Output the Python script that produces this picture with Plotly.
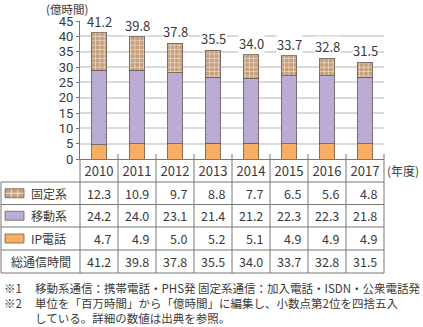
import plotly.graph_objects as go

# ---------------- data ----------------
years = ["2010", "2011", "2012", "2013", "2014", "2015", "2016", "2017"]
fixed = [12.3, 10.9, 9.7, 8.8, 7.7, 6.5, 5.6, 4.8]
mobile = [24.2, 24.0, 23.1, 21.4, 21.2, 22.3, 22.3, 21.8]
ip_phone = [4.7, 4.9, 5.0, 5.2, 5.1, 4.9, 4.9, 4.9]
total = [41.2, 39.8, 37.8, 35.5, 34.0, 33.7, 32.8, 31.5]
series_names = ["固定系", "移動系", "IP電話"]
total_label = "総通信時間"
y_ticks = [0, 5, 10, 15, 20, 25, 30, 35, 40, 45]
unit_label = "(億時間)"
year_unit = "(年度)"
note_marks = ["※1", "※2", ""]
note_texts = [
    "移動系通信：携帯電話・PHS発 固定系通信：加入電話・ISDN・公衆電話発",
    "単位を「百万時間」から「億時間」に編集し、小数点第2位を四捨五入",
    "している。詳細の数値は出典を参照。",
]

# ---------------- style ----------------
FONT = "Noto Sans CJK JP"
NUMFONT = "Roboto"
TXT = "#3a3a3a"
LINE = "#777777"
C_IP = "#F7AD63"
C_MOB = "#BBACD6"
C_FIX_BG = "#C6A07D"
C_FIX_FG = "#F0E6DA"
OUTLINE = "#6b5f57"

W, H = 423, 327
L, R, T, B = 80, 384, 21, 159  # plot area in pixels


def fx(px):
    return (px - L) / (R - L)


def fy(py):
    return (B - py) / (B - T)


x_idx = list(range(len(years)))
col_w = (R - L) / len(years)

fig = go.Figure()
fig.add_trace(go.Bar(x=x_idx, y=ip_phone, name=series_names[2], width=0.42,
                     marker=dict(color=C_IP, line=dict(color=OUTLINE, width=0.8)),
                     hoverinfo="skip"))
fig.add_trace(go.Bar(x=x_idx, y=mobile, name=series_names[1], width=0.42,
                     marker=dict(color=C_MOB, line=dict(color=OUTLINE, width=0.8)),
                     hoverinfo="skip"))
fig.add_trace(go.Bar(x=x_idx, y=fixed, name=series_names[0], width=0.42,
                     marker=dict(color=C_FIX_BG, line=dict(color=OUTLINE, width=0.8),
                                 pattern=dict(shape="+", size=4.4, solidity=0.25,
                                              fgcolor=C_FIX_FG, bgcolor=C_FIX_BG,
                                              fillmode="replace")),
                     hoverinfo="skip"))

annotations = []
# totals above bars
for i, t in enumerate(total):
    annotations.append(dict(x=i, y=t, xref="x", yref="y", text=f"{t:.1f}",
                            showarrow=False, yanchor="bottom", yshift=1,
                            bgcolor="white", borderpad=0,
                            font=dict(size=13, color=TXT, family=FONT)))

# unit labels
annotations.append(dict(x=fx(67), y=fy(8.5), xref="paper", yref="paper", text=unit_label,
                        showarrow=False, xanchor="center", yanchor="middle",
                        font=dict(size=11.5, color=TXT, family=FONT)))
annotations.append(dict(x=fx(385), y=fy(170), xref="paper", yref="paper", text=year_unit,
                        showarrow=False, xanchor="left", yanchor="middle",
                        font=dict(size=12, color=TXT, family=FONT)))

# table geometry
h_lines = [182, 204.5, 227, 250, 273]
row_centers = [(h_lines[k] + h_lines[k + 1]) / 2 for k in range(4)]
rows = [fixed, mobile, ip_phone, total]

shapes = []
for py in h_lines:
    shapes.append(dict(type="line", xref="paper", yref="paper",
                       x0=fx(1), x1=fx(R), y0=fy(py), y1=fy(py),
                       line=dict(color=LINE, width=1)))
shapes.append(dict(type="line", xref="paper", yref="paper",
                   x0=fx(1), x1=fx(1), y0=fy(182), y1=fy(273),
                   line=dict(color=LINE, width=1)))
for k in range(len(years) + 1):
    px = L + col_w * k
    top = B if k == 0 else 154
    shapes.append(dict(type="line", xref="paper", yref="paper",
                       x0=fx(px), x1=fx(px), y0=fy(top), y1=fy(273),
                       line=dict(color=LINE, width=1)))

# table values
for r, vals in enumerate(rows):
    for i, v in enumerate(vals):
        annotations.append(dict(x=fx(L + col_w * (i + 1) - 5), y=fy(row_centers[r]),
                                xref="paper", yref="paper", text=f"{v:.1f}",
                                showarrow=False, xanchor="right", yanchor="middle",
                                font=dict(size=12.5, color=TXT, family=FONT)))

# row labels with swatches
for r, name in enumerate(series_names):
    cy = row_centers[r]
    col = [C_FIX_BG, C_MOB, C_IP][r]
    shapes.append(dict(type="rect", xref="paper", yref="paper",
                       x0=fx(5), x1=fx(24), y0=fy(cy - 4.5), y1=fy(cy + 4.5),
                       fillcolor=col, line=dict(color=OUTLINE, width=0.8)))
    if r == 0:
        for gx in (11.3, 17.7):
            shapes.append(dict(type="line", xref="paper", yref="paper",
                               x0=fx(gx), x1=fx(gx), y0=fy(cy - 4), y1=fy(cy + 4),
                               line=dict(color=C_FIX_FG, width=1)))
        shapes.append(dict(type="line", xref="paper", yref="paper",
                           x0=fx(5.5), x1=fx(23.5), y0=fy(cy), y1=fy(cy),
                           line=dict(color=C_FIX_FG, width=1)))
    annotations.append(dict(x=fx(29), y=fy(cy), xref="paper", yref="paper", text=name,
                            showarrow=False, xanchor="left", yanchor="middle",
                            font=dict(size=12, color=TXT, family=FONT)))
annotations.append(dict(x=fx(41), y=fy(row_centers[3]), xref="paper", yref="paper",
                        text=total_label, showarrow=False, xanchor="center",
                        yanchor="middle", font=dict(size=12, color=TXT, family=FONT)))

# footnotes (one block for marks, one block for texts; 15px line spacing)
annotations.append(dict(x=fx(2), y=fy(303), xref="paper", yref="paper",
                        text="<br>".join(m if m else " " for m in note_marks),
                        showarrow=False, xanchor="left", yanchor="middle", align="left",
                        font=dict(size=11.5, color=TXT, family=FONT)))
annotations.append(dict(x=fx(33), y=fy(303), xref="paper", yref="paper",
                        text="<br>".join(note_texts),
                        showarrow=False, xanchor="left", yanchor="middle", align="left",
                        font=dict(size=11.5, color=TXT, family=FONT)))

fig.update_layout(
    width=W, height=H,
    margin=dict(l=L, r=W - R, t=T, b=H - B, pad=0),
    barmode="stack",
    showlegend=False,
    plot_bgcolor="white", paper_bgcolor="white",
    font=dict(family=FONT, color=TXT),
    annotations=annotations,
    shapes=shapes,
    xaxis=dict(range=[-0.5, len(years) - 0.5], tickmode="array", tickvals=x_idx,
               ticktext=years, showgrid=False, showline=True, linecolor=LINE,
               linewidth=1, ticks="", tickfont=dict(size=13, color=TXT, family=FONT),
               zeroline=False, fixedrange=True),
    yaxis=dict(range=[0, 45], tickmode="array", tickvals=y_ticks,
               showgrid=True, gridcolor="#DADADA", gridwidth=1.5,
               showline=True, linecolor=LINE, linewidth=1,
               ticks="outside", ticklen=3, tickcolor=LINE,
               tickfont=dict(size=13, color=TXT, family=NUMFONT),
               zeroline=False, fixedrange=True),
)

fig.write_html("out.html", config={"displayModeBar": False})
